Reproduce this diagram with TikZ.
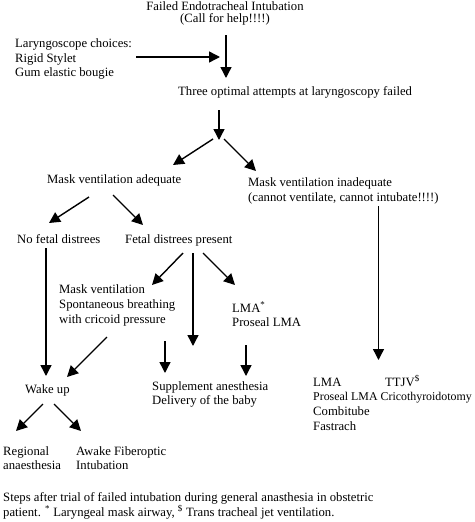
\documentclass[tikz,border=0pt]{standalone}
\usepackage{fontspec}
\setmainfont{Liberation Serif}
\usetikzlibrary{arrows.meta}
\begin{document}
\begin{tikzpicture}[x=1pt,y=-1pt,
  txt/.style={anchor=base west, inner sep=0pt, font=\fontsize{12.7}{14.5}\selectfont},
  ctxt/.style={txt, anchor=base},
  arr/.style={line width=1.4pt, -{Triangle[width=11pt,length=11pt]}}]
\useasboundingbox (0,0) rectangle (474,522);
% texts
\node[ctxt] (fail1) at (225,10) {Failed Endotracheal Intubation};
\node[ctxt] (fail2) at (225,23) {(Call for help!!!!)};
\node[txt] (lar1) at (15,47) {Laryngoscope choices:};
\node[txt] (lar2) at (15,62) {Rigid Stylet};
\node[txt] (lar3) at (15,76.5) {Gum elastic bougie};
\node[txt] (three) at (178,95.5) {Three optimal attempts at laryngoscopy failed};
\node[txt] (mva) at (47,183) {Mask ventilation adequate};
\node[txt] (mvi1) at (248,186) {Mask ventilation inadequate};
\node[txt] (mvi2) at (248,201) {(cannot ventilate, cannot intubate!!!!)};
\node[txt] (nofd) at (17,243) {No fetal distrees};
\node[txt] (fdp) at (125,243) {Fetal distrees present};
\node[txt] (mv1) at (59,293) {Mask ventilation};
\node[txt] (mv2) at (59,308) {Spontaneous breathing};
\node[txt] (mv3) at (59,323) {with cricoid pressure};
\node[txt] (lma1) at (232,312) {LMA\textsuperscript{*}};
\node[txt] (lma2) at (232,326.5) {Proseal LMA};
\node[txt] (wake) at (25,393) {Wake up};
\node[txt] (sup1) at (152,390) {Supplement anesthesia};
\node[txt] (sup2) at (152,404.5) {Delivery of the baby};
\node[txt] (civ1) at (313,386) {LMA};
\node[txt] (ttjv) at (385,386) {TTJV\textsuperscript{\$}};
\node[txt, font=\fontsize{11.9}{14.5}\selectfont] (civ2) at (313,400.5) {Proseal LMA Cricothyroidotomy};
\node[txt] (civ3) at (313,415.5) {Combitube};
\node[txt] (civ4) at (313,430) {Fastrach};
\node[txt] (reg1) at (3,455) {Regional};
\node[txt] (reg2) at (3,469.5) {anaesthesia};
\node[txt] (awk1) at (76,455) {Awake Fiberoptic};
\node[txt] (awk2) at (76,469.5) {Intubation};
\node[txt] (cap1) at (3,501) {Steps after trial of failed intubation during general anasthesia in obstetric};
\node[txt] (cap2) at (3,516) {patient. \textsuperscript{*} Laryngeal mask airway, \textsuperscript{\$} Trans tracheal jet ventilation.};
% connector end points
\coordinate (failOut) at (226,35);
\coordinate (threeIn) at (226,78);
\coordinate (larOut) at (136,57);
\coordinate (larIn) at (220,57);
\coordinate (threeOut) at (219,110);
\coordinate (split) at (219,140);
\coordinate (splitL) at (213,139);
\coordinate (mvaIn) at (173,165);
\coordinate (splitR) at (224,139);
\coordinate (mviIn) at (256,171);
\coordinate (mvaOutL) at (89,197);
\coordinate (nofdIn) at (49,223);
\coordinate (mvaOutR) at (113,195);
\coordinate (fdpIn) at (143,225);
\coordinate (nofdOut) at (46,248);
\coordinate (wakeIn1) at (46,376);
\coordinate (mviOut) at (378.5,206);
\coordinate (civIn) at (378.5,360);
\coordinate (fdpOutL) at (183,253);
\coordinate (mvIn) at (152,285);
\coordinate (fdpOutM) at (193,253);
\coordinate (fdpDown) at (193,346);
\coordinate (fdpOutR) at (203,253);
\coordinate (lmaIn) at (235,285);
\coordinate (mvOut) at (107,337);
\coordinate (wakeIn2) at (67,377);
\coordinate (supA) at (165,341);
\coordinate (supInA) at (165,373);
\coordinate (lmaOut) at (246,345);
\coordinate (supInB) at (246,376);
\coordinate (wakeOutL) at (43,404);
\coordinate (regIn) at (16,431);
\coordinate (wakeOutR) at (54,404);
\coordinate (awkIn) at (81,431);
% connectors
\draw[arr] (failOut) -- (threeIn);
\draw[arr] (larOut) -- (larIn);
\draw[arr] (threeOut) -- (split);
\draw[arr] (splitL) -- (mvaIn);
\draw[arr] (splitR) -- (mviIn);
\draw[arr] (mvaOutL) -- (nofdIn);
\draw[arr] (mvaOutR) -- (fdpIn);
\draw[arr] (nofdOut) -- (wakeIn1);
\draw[arr] (mviOut) -- (civIn);
\draw[arr] (fdpOutL) -- (mvIn);
\draw[arr] (fdpOutM) -- (fdpDown);
\draw[arr] (fdpOutR) -- (lmaIn);
\draw[arr] (mvOut) -- (wakeIn2);
\draw[arr] (supA) -- (supInA);
\draw[arr] (lmaOut) -- (supInB);
\draw[arr] (wakeOutL) -- (regIn);
\draw[arr] (wakeOutR) -- (awkIn);
\end{tikzpicture}
\end{document}
